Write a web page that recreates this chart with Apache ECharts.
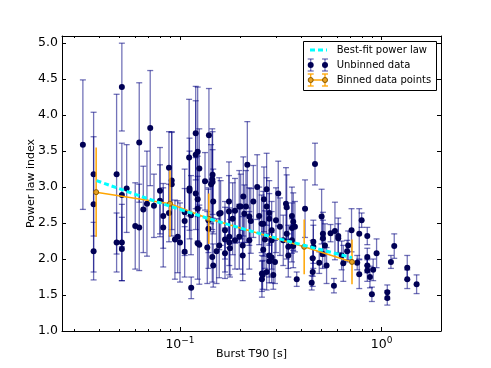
<!DOCTYPE html>
<html>
<head>
<meta charset="utf-8">
<script src="https://cdn.jsdelivr.net/npm/echarts@6/dist/echarts.min.js"></script>
<style>
html,body{margin:0;padding:0;background:#fff}
#chart{width:491px;height:368px}
</style>
</head>
<body>
<div id="chart"></div>
<script>
// unbinned bursts: T90 [s], power law index, 1-sigma error
let T90 = [
  0.0330,0.0373,0.0373,0.0373,0.0485,0.0485,0.0515,0.0515,0.0515,0.0515,
  0.0544,0.0600,0.0628,0.0628,0.0658,0.0686,0.0712,0.0743,0.0796,0.0796,
  0.0826,0.0826,0.0882,0.0910,0.0910,0.0882,0.0944,0.0974,0.1000,0.1055,
  0.1055,0.1055,0.1134,0.1110,0.1115,0.1115,0.1137,0.1197,0.1197,0.1224,
  0.1247,0.1197,0.1224,0.1224,0.1224,0.1247,0.1331,0.1392,0.1384,0.1384,
  0.1366,0.1426,0.1446,0.1446,0.1462,0.1462,0.1451,0.1451,0.1519,0.1566,
  0.1591,0.1566,0.1672,0.1672,0.1672,0.1750,0.1750,0.1756,0.1756,0.1770,
  0.1825,0.1874,0.1874,0.1968,0.2000,0.1968,0.2047,0.2047,0.2061,0.2085,
  0.2125,0.2158,0.2208,0.2208,0.2244,0.2311,0.2415,0.2471,0.2540,0.2549,
  0.2549,0.2609,0.2690,0.3072,0.2588,0.2690,0.2772,0.2772,0.2638,0.2588,
  0.2569,0.2690,0.2772,0.2772,0.2849,0.2849,0.2849,0.2902,0.2959,0.2993,
  0.3132,0.3252,0.3355,0.3382,0.3382,0.3445,0.3445,0.3591,0.3591,0.3645,
  0.3716,0.3591,0.3645,0.3793,0.4171,0.4673,0.5040,0.4585,0.4585,0.4553,
  0.4553,0.4500,0.5115,0.5115,0.5234,0.5098,0.4906,0.5334,0.5583,0.5868,
  0.6094,0.6094,0.5801,0.6334,0.6455,0.6824,0.6746,0.7093,0.7568,0.7745,
  0.7961,0.7745,0.8490,0.8490,0.8490,0.8490,0.8753,0.9080,0.9441,0.8947,
  1.067,1.067,1.112,1.155,1.340,1.340,1.491
];
let plIndex = [
  3.59,3.18,2.76,2.11,3.18,2.23,4.39,2.89,2.23,2.14,
  2.98,2.46,3.62,2.44,2.69,2.77,3.82,2.74,2.95,2.81,
  2.60,2.44,3.27,3.09,3.04,2.64,2.27,2.31,2.23,2.65,
  2.53,2.10,2.61,3.41,2.98,2.95,1.60,3.75,3.45,3.49,
  3.26,2.91,2.83,2.70,2.22,2.20,3.08,3.72,2.54,2.42,
  2.16,3.04,3.11,2.03,1.91,2.80,3.17,3.07,2.11,2.63,
  2.64,2.19,2.40,2.27,2.08,2.80,2.66,2.31,2.23,2.15,
  2.56,2.67,2.26,2.73,2.73,2.31,2.19,2.05,2.87,2.63,
  2.73,3.31,2.59,2.26,2.53,2.80,3.00,2.60,2.49,1.80,
  1.72,2.83,2.97,2.91,2.49,2.73,2.64,2.56,2.27,2.13,
  1.78,1.82,1.97,2.05,2.02,2.40,2.26,1.78,1.96,2.54,
  2.45,2.26,2.77,2.72,2.35,2.17,2.05,2.60,2.43,2.52,
  2.45,2.26,2.18,1.72,2.70,3.32,2.59,2.24,2.17,2.01,
  1.82,1.67,2.35,2.29,2.19,2.07,1.95,1.91,2.36,2.39,
  2.32,2.29,1.63,2.05,1.94,2.19,2.11,2.40,1.95,2.35,
  2.54,1.79,2.32,2.03,1.84,1.91,1.75,1.85,2.08,1.51,
  1.54,1.46,1.96,2.18,1.88,1.72,1.65
];
let plErr = [
  0.90,0.86,0.94,0.40,1.11,0.41,0.61,0.72,0.53,0.44,
  0.61,0.60,0.83,0.60,0.60,0.73,0.80,0.44,0.60,0.50,
  0.45,0.55,0.50,0.68,0.72,0.40,0.55,0.50,0.55,0.60,
  0.45,0.35,0.55,0.81,0.70,0.55,0.15,0.65,0.75,0.90,
  0.55,0.50,0.60,0.45,0.50,0.55,0.40,0.65,0.45,0.55,
  0.50,0.55,0.70,0.35,0.30,0.45,0.60,0.45,0.45,0.50,
  0.45,0.45,0.40,0.45,0.35,0.55,0.50,0.40,0.45,0.40,
  0.50,0.45,0.40,0.50,0.45,0.45,0.40,0.35,0.55,0.40,
  0.50,0.60,0.40,0.40,0.45,0.50,0.45,0.40,0.40,0.25,
  0.25,0.45,0.50,0.45,0.45,0.40,0.45,0.35,0.40,0.35,
  0.20,0.25,0.30,0.30,0.35,0.40,0.40,0.20,0.30,0.45,
  0.40,0.35,0.50,0.45,0.35,0.30,0.30,0.40,0.35,0.40,
  0.35,0.30,0.30,0.10,0.40,0.29,0.38,0.30,0.30,0.25,
  0.20,0.10,0.30,0.25,0.30,0.20,0.15,0.25,0.12,0.40,
  0.25,0.20,0.10,0.20,0.25,0.20,0.15,0.30,0.10,0.35,
  0.10,0.20,0.12,0.12,0.15,0.10,0.15,0.15,0.20,0.10,
  0.10,0.10,0.09,0.17,0.17,0.13,0.13
];

// binned points
let binT90 = [0.0384, 0.0892, 0.139, 0.413, 0.713];
let binIndex = [2.93, 2.77, 2.56, 2.17, 1.96];
let binErr = [0.62, 0.46, 0.35, 0.38, 0.31];

// best-fit power law
let fitT90 = [0.0386, 0.06, 0.1, 0.2, 0.4, 0.713];
let fitIndex = [3.09, 2.90, 2.69, 2.43, 2.20, 2.02];

// ticks
let xMajor = [0.1, 1];
let xMinor = [0.03,0.04,0.05,0.06,0.07,0.08,0.09,0.2,0.3,0.4,0.5,0.6,0.7,0.8,0.9];
let yTicks = [1.0,1.5,2.0,2.5,3.0,3.5,4.0,4.5,5.0];

let FONT = 'DejaVu Sans';
let NAVY_BAR = 'rgba(0,0,128,0.55)';
let NAVY_DOT = '#000055';
let ORANGE = '#ffa500';

let myChart = echarts.init(document.getElementById('chart'));

let unbinned = [], binned = [];
for (let i = 0; i < T90.length; i++) unbinned.push([T90[i], plIndex[i], plErr[i]]);
for (let i = 0; i < binT90.length; i++) binned.push([binT90[i], binIndex[i], binErr[i]]);
let fitData = fitT90.map(function (t, i) { return [t, fitIndex[i]]; });

let errorBar = function (color, capW, lw) {
    return function (params, api) {
        let x = api.value(0), y = api.value(1), e = api.value(2);
        let top = api.coord([x, y + e]);
        let bot = api.coord([x, y - e]);
        let style = {stroke: color, lineWidth: lw};
        let kids = [{type: 'line', shape: {x1: top[0], y1: top[1], x2: bot[0], y2: bot[1]}, style: style}];
        if (capW > 0) {
            kids.push({type: 'line', shape: {x1: top[0] - capW, y1: top[1], x2: top[0] + capW, y2: top[1]}, style: style});
            kids.push({type: 'line', shape: {x1: bot[0] - capW, y1: bot[1], x2: bot[0] + capW, y2: bot[1]}, style: style});
        }
        return {type: 'group', children: kids};
    };
};

let xFmt = function (v) {
    let e = Math.round(Math.log10(v));
    return '{b|10}{s|' + (e < 0 ? '\u2212' : '') + Math.abs(e) + '}';
};

let xBase = {
    type: 'log', logBase: 10, min: 0.026, max: 1.97,
    splitLine: {show: false}
};
let mkX = function (pos, ticks, len, line, labels) {
    return Object.assign({}, xBase, {
        position: pos,
        axisLine: {show: line, onZero: false, lineStyle: {color: '#000', width: 1}},
        axisTick: {show: true, inside: true, length: len, customValues: ticks, lineStyle: {color: '#000', width: 1}},
        axisLabel: labels ? {
            show: true, customValues: xMajor, margin: 5, formatter: xFmt,
            rich: {
                b: {fontFamily: FONT, fontSize: 12.5, color: '#000'},
                s: {fontFamily: FONT, fontSize: 9, color: '#000', padding: [0, 0, 9, 0]}
            }
        } : {show: false}
    });
};
let xAxes = [
    mkX('bottom', xMajor, 4, true, true),
    mkX('bottom', xMinor, 2, false, false),
    mkX('top', xMajor, 4, true, false),
    mkX('top', xMinor, 2, false, false)
];
xAxes[0].name = 'Burst T90 [s]';
xAxes[0].nameLocation = 'middle';
xAxes[0].nameGap = 18;
xAxes[0].nameMoveOverlap = false;
xAxes[0].nameTextStyle = {fontFamily: FONT, fontSize: 11, color: '#000'};

let mkY = function (pos, labels) {
    return {
        type: 'value', min: 1.0, max: 5.1, position: pos,
        splitLine: {show: false},
        axisLine: {show: true, onZero: false, lineStyle: {color: '#000', width: 1}},
        axisTick: {show: true, inside: true, length: 4, customValues: yTicks, lineStyle: {color: '#000', width: 1}},
        axisLabel: labels ? {
            show: true, customValues: yTicks, margin: 4,
            fontFamily: FONT, fontSize: 12.5, color: '#000',
            formatter: function (v) { return v.toFixed(1); }
        } : {show: false}
    };
};
let yAxes = [mkY('left', true), mkY('right', false)];
yAxes[0].name = 'Power law index';
yAxes[0].nameLocation = 'middle';
yAxes[0].nameGap = 25;
yAxes[0].nameMoveOverlap = false;
yAxes[0].nameTextStyle = {fontFamily: FONT, fontSize: 11, color: '#000'};

// legend drawn by hand, matplotlib style
let LX1 = 310.7, LX2 = 325;
let legend = [
    {type: 'rect', shape: {x: 303.5, y: 41.5, width: 133, height: 49}, style: {fill: '#fff', stroke: '#000', lineWidth: 1}},
    {type: 'line', shape: {x1: 310, y1: 50, x2: 327, y2: 50}, style: {stroke: '#00ffff', lineWidth: 3, lineDash: [5, 3]}}
];
[LX1, LX2].forEach(function (x) {
    legend.push({type: 'line', shape: {x1: x, y1: 59, x2: x, y2: 71}, style: {stroke: NAVY_BAR, lineWidth: 1.3}});
    legend.push({type: 'line', shape: {x1: x - 3, y1: 59, x2: x + 3, y2: 59}, style: {stroke: NAVY_BAR, lineWidth: 1.3}});
    legend.push({type: 'line', shape: {x1: x - 3, y1: 71, x2: x + 3, y2: 71}, style: {stroke: NAVY_BAR, lineWidth: 1.3}});
    legend.push({type: 'circle', shape: {cx: x, cy: 65, r: 3}, style: {fill: NAVY_DOT}});
});
legend.push({type: 'line', shape: {x1: LX1, y1: 80, x2: LX2, y2: 80}, style: {stroke: ORANGE, lineWidth: 1.5}});
[LX1, LX2].forEach(function (x) {
    legend.push({type: 'line', shape: {x1: x, y1: 74, x2: x, y2: 86}, style: {stroke: ORANGE, lineWidth: 1.3}});
    legend.push({type: 'line', shape: {x1: x - 3, y1: 74, x2: x + 3, y2: 74}, style: {stroke: ORANGE, lineWidth: 1.3}});
    legend.push({type: 'line', shape: {x1: x - 3, y1: 86, x2: x + 3, y2: 86}, style: {stroke: ORANGE, lineWidth: 1.3}});
    legend.push({type: 'circle', shape: {cx: x, cy: 80, r: 2.5}, style: {fill: '#e8a020', stroke: '#8a5a00', lineWidth: 1}});
});
['Best-fit power law', 'Unbinned data', 'Binned data points'].forEach(function (t, i) {
    legend.push({type: 'text', x: 336.7, y: 50 + i * 15, style: {text: t, font: '10px "DejaVu Sans"', fill: '#000', verticalAlign: 'middle', align: 'left'}});
});

let option = {
    backgroundColor: '#fff',
    animation: false,
    grid: {left: 62, right: 50, top: 36, bottom: 37, outerBoundsMode: 'none'},
    xAxis: xAxes,
    yAxis: yAxes,
    series: [
        {
            name: 'Unbinned errors', type: 'custom', data: unbinned,
            encode: {x: 0, y: 1}, renderItem: errorBar(NAVY_BAR, 3, 1.3), z: 2
        },
        {
            name: 'Unbinned data', type: 'scatter', data: unbinned.map(function (d) { return [d[0], d[1]]; }),
            symbol: 'circle', symbolSize: 6, itemStyle: {color: NAVY_DOT, opacity: 1}, z: 3
        },
        {
            name: 'Binned errors', type: 'custom', data: binned,
            encode: {x: 0, y: 1}, renderItem: errorBar(ORANGE, 0, 1.5), z: 4
        },
        {
            name: 'Binned data points', type: 'line', data: binned.map(function (d) { return [d[0], d[1]]; }),
            symbol: 'circle', symbolSize: 5, showAllSymbol: true,
            lineStyle: {color: ORANGE, width: 1.5},
            itemStyle: {color: '#e8a020', borderColor: '#8a5a00', borderWidth: 1}, z: 5
        },
        {
            name: 'Best-fit power law', type: 'line', data: fitData, smooth: true,
            symbol: 'none', lineStyle: {color: '#00ffff', width: 3, type: [5, 3]}, z: 6
        }
    ],
    graphic: {elements: legend}
};
myChart.setOption(option);
</script>
</body>
</html>
